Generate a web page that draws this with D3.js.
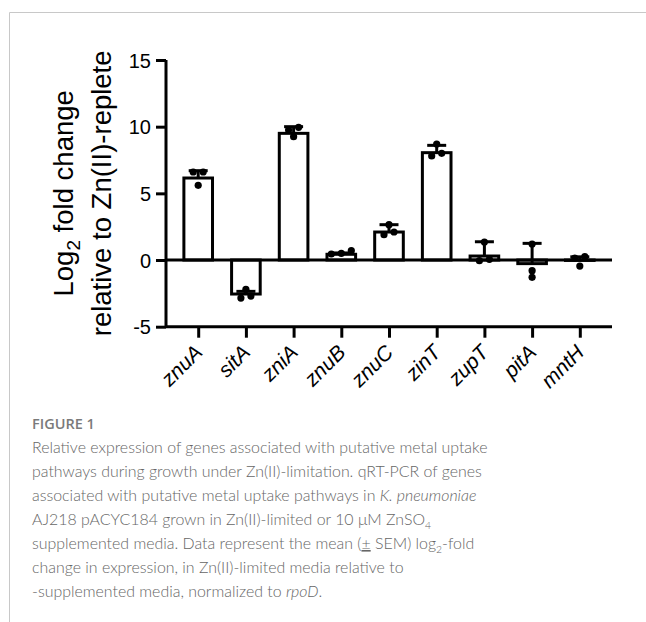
<!DOCTYPE html>
<html>
<head>
<meta charset="utf-8">
<script src="https://cdn.jsdelivr.net/npm/d3@7"></script>
<style>
  html, body { margin: 0; padding: 0; background: #fff; }
  svg { display: block; }
</style>
</head>
<body>
<svg id="chart" width="646" height="622"></svg>
<script>
// ---- data ----
const genes = ["znuA", "sitA", "zniA", "znuB", "znuC", "zinT", "zupT", "pitA", "mntH"];
const means = [6.15, -2.55, 9.5, 0.43, 2.1, 8.05, 0.3, -0.27, -0.03];
const sems  = [0.55, 0.2, 0.5, 0.1, 0.55, 0.55, 1.07, 1.52, 0.27];
const replicates = [
  [6.6, 5.6, 6.6],
  [-2.85, -2.2, -2.7],
  [9.25, 9.95, 9.75],
  [0.5, 0.7, 0.45],
  [1.9, 2.65, 2.1],
  [7.8, 8.7, 8.0],
  [-0.05, 1.35, 0.05],
  [-0.8, 1.2, -1.3],
  [0.15, -0.45, 0.25]
];
const yTicks = [-5, 0, 5, 10, 15];
const yTitle = ["Log", "2", " fold change"];
const yTitle2 = "relative to Zn(II)-replete";

// ---- layout ----
const svg = d3.select("#chart");
const X0 = 166, X1 = 612, YT = 60, YB = 326.7;
const x = d3.scalePoint().domain(genes).range([X0, X1]).padding(0.675);
const y = d3.scaleLinear().domain([-5, 15]).range([YB, YT]);
const barW = x.step() * 0.6;
const SW = 3;

// page border
svg.append("line").attr("x1", 9.5).attr("x2", 646).attr("y1", 12.5).attr("y2", 12.5)
  .attr("stroke", "#c8c8c8").attr("stroke-width", 1);
svg.append("line").attr("x1", 9.5).attr("x2", 9.5).attr("y1", 12.5).attr("y2", 622)
  .attr("stroke", "#c8c8c8").attr("stroke-width", 1);

const g = svg.append("g");
const data = genes.map((k, i) => ({ gene: k, mean: means[i], sem: sems[i], pts: replicates[i] }));

// bars
g.selectAll("rect.bar").data(data).join("rect")
  .attr("class", "bar")
  .attr("x", d => x(d.gene) - barW / 2)
  .attr("width", barW)
  .attr("y", d => Math.min(y(d.mean), y(0)))
  .attr("height", d => Math.abs(y(d.mean) - y(0)))
  .attr("fill", "#fff").attr("stroke", "#000").attr("stroke-width", SW);

// zero line
g.append("line").attr("x1", X0).attr("x2", X1).attr("y1", y(0)).attr("y2", y(0))
  .attr("stroke", "#000").attr("stroke-width", SW);

// error bars (above)
const capW = 19;
const eb = g.selectAll("g.eb").data(data).join("g").attr("class", "eb");
eb.append("line")
  .attr("x1", d => x(d.gene)).attr("x2", d => x(d.gene))
  .attr("y1", d => y(d.mean)).attr("y2", d => y(d.mean + d.sem))
  .attr("stroke", "#000").attr("stroke-width", SW);
eb.append("line")
  .attr("x1", d => x(d.gene) - capW / 2).attr("x2", d => x(d.gene) + capW / 2)
  .attr("y1", d => y(d.mean + d.sem)).attr("y2", d => y(d.mean + d.sem))
  .attr("stroke", "#000").attr("stroke-width", SW);

// scatter points, spread in rows like a column scatter
const R = 3.6, spacing = 10, rowTol = 4;
function spread(d) {
  const sorted = d.pts.map(v => ({ v, py: y(v) })).sort((a, b) => a.v - b.v);
  const rows = [];
  sorted.forEach(p => {
    const last = rows[rows.length - 1];
    if (last && Math.abs(last[0].py - p.py) < rowTol) last.push(p); else rows.push([p]);
  });
  const out = [];
  rows.forEach(row => row.forEach((p, i) => out.push({ cx: x(d.gene) + (i - (row.length - 1) / 2) * spacing, cy: p.py })));
  return out;
}
g.selectAll("g.pts").data(data).join("g").attr("class", "pts")
  .selectAll("circle").data(d => spread(d)).join("circle")
  .attr("cx", p => p.cx).attr("cy", p => p.cy).attr("r", R).attr("fill", "#000");

// y axis
const yAxis = g.append("g").attr("transform", `translate(${X0},0)`)
  .call(d3.axisLeft(y).tickValues(yTicks).tickSize(10).tickSizeOuter(0).tickPadding(5)
    .tickFormat(d => String(d)));
yAxis.select(".domain").attr("stroke-width", SW).attr("d", `M0,${YT}V${YB}`);
yAxis.selectAll(".tick line").attr("stroke-width", SW);
yAxis.selectAll(".tick text").attr("font-family", "Liberation Sans, Arial, sans-serif")
  .attr("font-size", 20).attr("fill", "#000").attr("dy", "0.36em");

// x axis
const xAxis = g.append("g").attr("transform", `translate(0,${YB})`)
  .call(d3.axisBottom(x).tickSize(11).tickSizeOuter(0).tickFormat(""));
xAxis.select(".domain").attr("stroke-width", SW).attr("d", `M${X0},0H${X1}`);
xAxis.selectAll(".tick line").attr("stroke-width", SW);
xAxis.selectAll(".tick").append("text")
  .attr("transform", "translate(5,27) rotate(-45)")
  .attr("text-anchor", "end")
  .attr("font-family", "Liberation Sans, Arial, sans-serif")
  .attr("font-style", "italic")
  .attr("font-size", 21)
  .attr("fill", "#000")
  .text(d => d);

// y axis title
const yc = (YT + YB) / 2;
const t1 = g.append("text").attr("transform", `translate(73,${yc}) rotate(-90)`)
  .attr("text-anchor", "middle")
  .attr("font-family", "Liberation Sans, Arial, sans-serif").attr("font-size", 27.5).attr("fill", "#000");
t1.append("tspan").text(yTitle[0]);
t1.append("tspan").text(yTitle[1]).attr("font-size", 19).attr("dy", "0.35em");
t1.append("tspan").text(yTitle[2]).attr("dy", "-0.24em");
g.append("text").attr("transform", `translate(111,${yc}) rotate(-90)`)
  .attr("text-anchor", "middle")
  .attr("font-family", "Liberation Sans, Arial, sans-serif").attr("font-size", 27.5).attr("fill", "#000")
  .text(yTitle2);

// caption
const capFont = "Lato, Open Sans, sans-serif";
svg.append("text").attr("x", 32).attr("y", 429)
  .attr("font-family", "Open Sans, sans-serif").attr("font-weight", 600).attr("font-size", 14.5)
  .attr("fill", "#7a7a7a").text("FIGURE 1");

const captionLines = [
  [["Relative expression of genes associated with putative metal uptake"]],
  [["pathways during growth under Zn(II)-limitation. qRT-PCR of genes"]],
  [["associated with putative metal uptake pathways in "], ["K. pneumoniae", "i"]],
  [["AJ218 pACYC184 grown in Zn(II)-limited or 10 μM ZnSO"], ["4", "sub"]],
  [["supplemented media. Data represent the mean ("], ["±", "u"], [" SEM) log"], ["2", "sub"], ["-fold"]],
  [["change in expression, in Zn(II)-limited media relative to"]],
  [["-supplemented media, normalized to "], ["rpoD", "i"], ["."]]
];
const capTexts = captionLines.map((parts, i) => {
  const t = svg.append("text").attr("x", 32).attr("y", 453 + i * 24)
    .attr("font-family", capFont).attr("font-weight", 300).attr("font-size", 17)
    .attr("fill", "#666");
  parts.forEach(([s, kind], j) => {
    const ts = t.append("tspan").text(s);
    if (kind === "i") ts.attr("font-style", "italic");
    if (kind === "u") ts.attr("text-decoration", "underline");
    if (kind === "sub") ts.attr("font-size", 11).attr("dy", 4);
    if (j > 0 && parts[j - 1][1] === "sub") ts.attr("dy", -4);
  });
  return t;
});
// fit caption font size so the first line spans the same width as in the figure
const w0 = capTexts[0].node().getComputedTextLength();
const fs = 17 * 456 / w0;
capTexts.forEach(t => {
  t.attr("font-size", fs);
  t.selectAll("tspan").filter(function() { return d3.select(this).attr("font-size") === "11"; })
    .attr("font-size", fs * 0.65);
});
</script>
</body>
</html>
